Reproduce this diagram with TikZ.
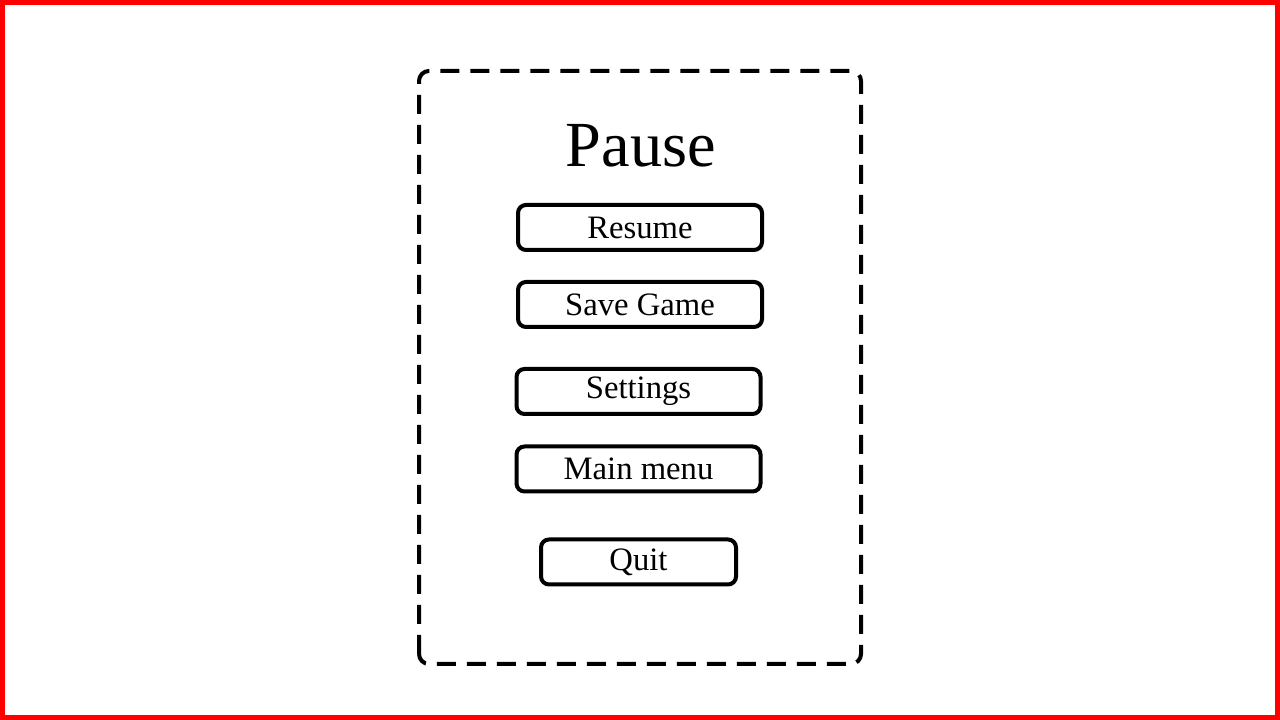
\documentclass[tikz,border=0pt]{standalone}
\usepackage{fontspec}
\setmainfont{Liberation Serif}
\usepackage{tikz}
\usetikzlibrary{positioning}
\tikzset{
  % Box styles
  menubutton/.style={rectangle, rounded corners=0.08cm, draw=black, line width=0.04cm, minimum width=2.44cm, minimum height=0.45cm, inner sep=0pt, font=\fontsize{9.3}{11}\selectfont, align=center},
  % Frame styles
  pauseframe/.style={draw=black, line width=0.04cm, rounded corners=0.1cm, dash pattern=on 0.19cm off 0.11cm},
  outerframe/.style={draw=red, line width=0.05cm}
}
\begin{document}
\begin{tikzpicture}
  \useasboundingbox (0,0) rectangle (12.8,7.2);
  % Outer border
  \draw[outerframe] (0.025,0.025) rectangle (12.775,7.175);

  % Pause panel
  \draw[pauseframe] (4.19,0.56) rectangle (8.61,6.49);

  % Title
  \node[font=\fontsize{18.3}{22}\selectfont, anchor=base] (title) at (6.41,5.53) {Pause};

  % Buttons
  \node[menubutton] (resume) at (6.40,4.925) {Resume};
  \node[menubutton] (savegame) at (6.40,4.155) {Save Game};
  \node[menubutton] (settings) at (6.385,3.285) {Settings};
  \node[menubutton] (mainmenu) at (6.385,2.51) {Main menu};
  \node[menubutton, minimum width=1.95cm] (quit) at (6.385,1.58) {Quit};
\end{tikzpicture}
\end{document}
